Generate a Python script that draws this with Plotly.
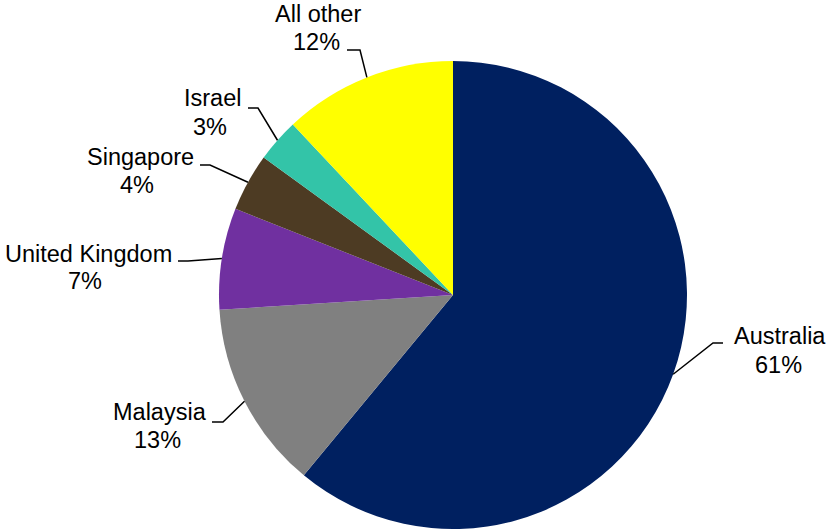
import math
import plotly.graph_objects as go

# Share of total by country (percent), clockwise from 12 o'clock
countries = ["Australia", "Malaysia", "United Kingdom", "Singapore", "Israel", "All other"]
shares = [61, 13, 7, 4, 3, 12]
colors = ["#002060", "#808080", "#7030A0", "#4D3B23", "#33C4A8", "#FFFF00"]

W, H = 828, 529
FONT = dict(family="Liberation Sans, Arial, sans-serif", size=23.5, color="#000000")

# Pie placement in pixels (domain in paper units derived from it)
cx, cy, r = 453, 295, 234

# Label layout: text centre for name/percent lines and the elbow of each leader line
label_layout = {
    "Australia":      dict(name=(780, 336), pct=(778, 365), elbow=[(723, 343), (713, 343)]),
    "Malaysia":       dict(name=(160, 412), pct=(157, 440), elbow=[(212, 422), (223, 422)]),
    "United Kingdom": dict(name=(88, 254),  pct=(85, 281),  elbow=[(178, 261), (188, 261)]),
    "Singapore":      dict(name=(140, 157), pct=(137, 185), elbow=[(200, 165), (210, 165)]),
    "Israel":         dict(name=(213, 98),  pct=(210, 127), elbow=[(248, 108), (258, 108)]),
    "All other":      dict(name=(318, 14),  pct=(316, 42),  elbow=[(347, 50), (360, 50)]),
}


def px(x, y):
    return x / W, 1 - y / H


fig = go.Figure(
    go.Pie(
        labels=countries,
        values=shares,
        sort=False,
        direction="clockwise",
        rotation=0,
        marker=dict(colors=colors, line=dict(width=0)),
        textinfo="none",
        hoverinfo="label+percent",
        showlegend=False,
        domain=dict(x=[(cx - r) / W, (cx + r) / W], y=[0, 2 * r / H]),
    )
)

annotations = []
shapes = []
total = sum(shares)
cum = 0.0
for name, val in zip(countries, shares):
    mid = (cum + val / 2) / total * 2 * math.pi
    cum += val
    ex = cx + r * math.sin(mid)
    ey = cy - r * math.cos(mid)
    lay = label_layout[name]

    nx, ny = px(*lay["name"])
    annotations.append(dict(x=nx, y=ny, xref="paper", yref="paper", text=name,
                            showarrow=False, font=FONT, xanchor="center", yanchor="middle"))
    qx, qy = px(*lay["pct"])
    annotations.append(dict(x=qx, y=qy, xref="paper", yref="paper", text=f"{val}%",
                            showarrow=False, font=FONT, xanchor="center", yanchor="middle"))

    pts = [px(*p) for p in lay["elbow"]] + [px(ex, ey)]
    path = "M {} {} ".format(*pts[0]) + " ".join("L {} {}".format(*p) for p in pts[1:])
    shapes.append(dict(type="path", xref="paper", yref="paper", path=path,
                       line=dict(color="#000000", width=1.5)))

fig.update_layout(
    width=W,
    height=H,
    margin=dict(l=0, r=0, t=0, b=0),
    paper_bgcolor="#FFFFFF",
    plot_bgcolor="#FFFFFF",
    annotations=annotations,
    shapes=shapes,
)

fig.write_html("out.html")
